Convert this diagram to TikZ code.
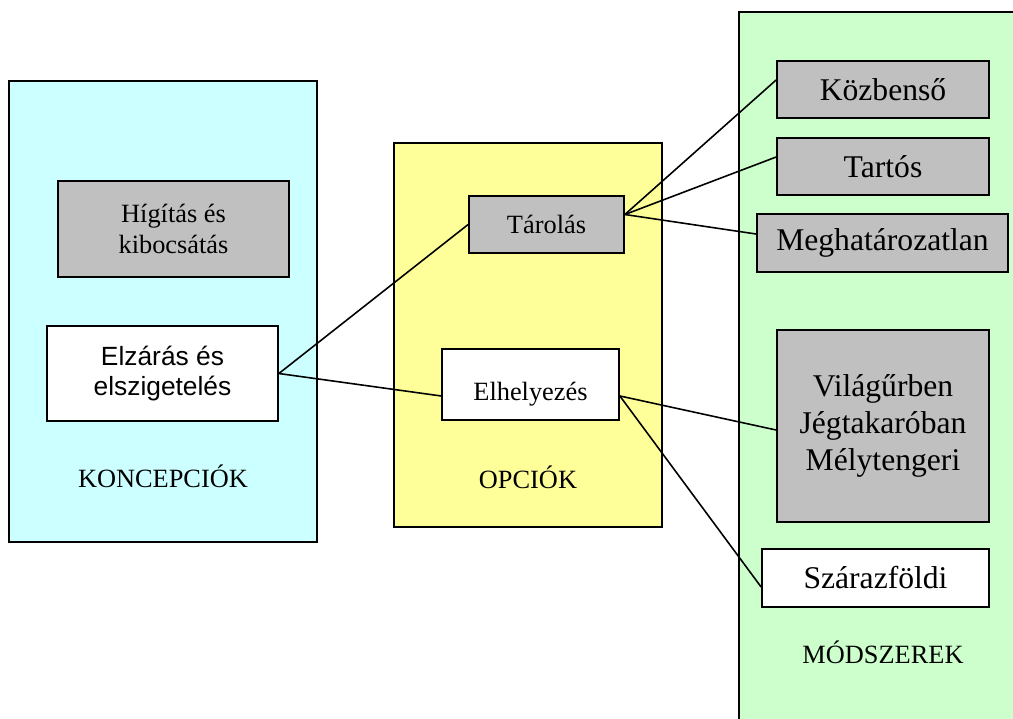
\documentclass[tikz,border=0pt]{standalone}
\usepackage{fontspec}
\setmainfont{Liberation Serif}
\setsansfont{Liberation Sans}
\definecolor{ciano}{RGB}{204,255,255}
\definecolor{sarga}{RGB}{255,255,153}
\definecolor{zold}{RGB}{204,255,204}
\definecolor{szurke}{RGB}{192,192,192}
\tikzset{
  panel/.style={draw, line width=1pt},
  meret/.style 2 args={minimum width=#1*0.02cm, minimum height=#2*0.02cm},
  doboz/.style={draw, line width=1pt, inner sep=0pt, align=center, font=\fontsize{15}{17.6}\selectfont},
  nagy/.style={doboz, font=\fontsize{18}{21}\selectfont},
  felirat/.style={font=\fontsize{15}{18}\selectfont},
  vonal/.style={line width=0.9pt}
}

\begin{document}
\begin{tikzpicture}[x=0.02cm, y=-0.02cm]
\useasboundingbox (0,0) rectangle (1013,718);
\clip (0,0) rectangle (1013,718);
\draw [panel, fill=ciano] (9,81) rectangle (317,542);
\draw [panel, fill=sarga] (394,143) rectangle (662,527);
\draw [panel, fill=zold] (739,12) rectangle (1040,760);

\node [doboz, fill=szurke, meret={231}{96}] (higitas) at (173.5,229) {Hígítás és\\kibocsátás};
\node [doboz, fill=white, meret={231}{95}, font=\sffamily\fontsize{15}{17}\selectfont] (elzaras) at (162.5,373.5) {Elzárás és\\elszigetelés};
\node [felirat] (koncepciok) at (163,476) {KONCEPCIÓK};

\node [doboz, fill=szurke, meret={155}{57}] (tarolas) at (546.5,224.5) {Tárolás};
\node [doboz, fill=white, minimum width=3.54cm, text height=1.02cm, text depth=0.4cm] (elhelyezes) at (530.5,384.5) {Elhelyezés};
\node [felirat] (opciok) at (528,477) {OPCIÓK};

\node [nagy, fill=szurke, meret={212}{57}] (kozbenso) at (883,89.5) {Közbenső};
\node [nagy, fill=szurke, meret={212}{57}] (tartos) at (883,166.5) {Tartós};
\node [nagy, fill=szurke, meret={251}{58}] (meghat) at (882.5,243) {Meghatározatlan};
\node [nagy, fill=szurke, meret={212}{192}] (vilagur) at (883,426) {Világűrben\\Jégtakaróban\\Mélytengeri};
\node [nagy, fill=white, meret={227}{58}] (szaraz) at (875.5,578) {Szárazföldi};
\node [felirat] (modszerek) at (883,652) {MÓDSZEREK};

\draw [vonal] (elzaras.east) -- (tarolas.west);
\draw [vonal] (elzaras.east) -- (elhelyezes.mid west);
\draw [vonal] ([yshift=0.2cm]tarolas.east) -- ([yshift=0.19cm]kozbenso.west);
\draw [vonal] ([yshift=0.2cm]tarolas.east) -- ([yshift=0.19cm]tartos.west);
\draw [vonal] ([yshift=0.2cm]tarolas.east) -- ([yshift=0.18cm]meghat.west);
\draw [vonal] (elhelyezes.mid east) -- ([yshift=-0.08cm]vilagur.west);
\draw [vonal] (elhelyezes.mid east) -- ([yshift=-0.18cm]szaraz.west);
\end{tikzpicture}
\end{document}
